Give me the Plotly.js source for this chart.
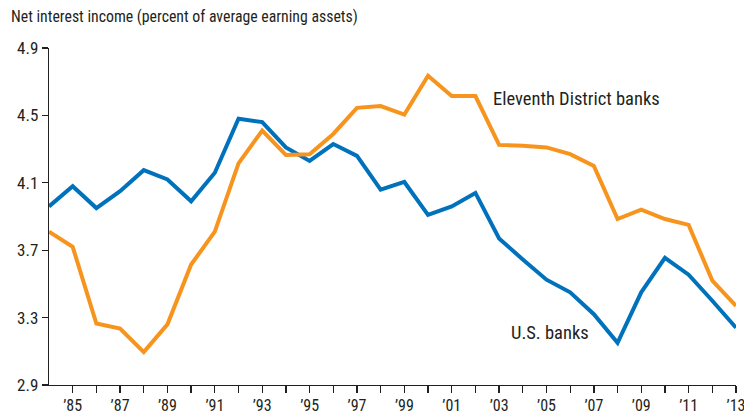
<!DOCTYPE html>
<html>
<head>
<meta charset="utf-8">
<script src="https://cdn.plot.ly/plotly-3.0.1.min.js"></script>
<style>html,body{margin:0;padding:0;background:#fff;}#chart{width:744px;height:414px;}</style>
</head>
<body>
<div id="chart"></div>
<script>
const years = [1984,1985,1986,1987,1988,1989,1990,1991,1992,1993,1994,1995,1996,1997,1998,1999,2000,2001,2002,2003,2004,2005,2006,2007,2008,2009,2010,2011,2012,2013];
const usBanks = [3.96,4.08,3.95,4.05,4.175,4.12,3.99,4.16,4.48,4.46,4.31,4.23,4.33,4.26,4.06,4.105,3.91,3.96,4.04,3.77,3.645,3.525,3.45,3.32,3.15,3.45,3.655,3.555,3.40,3.24];
const eleventhDistrict = [3.81,3.72,3.265,3.235,3.095,3.26,3.615,3.81,4.215,4.41,4.265,4.27,4.39,4.545,4.555,4.505,4.735,4.615,4.615,4.325,4.32,4.31,4.27,4.20,3.885,3.94,3.885,3.85,3.52,3.37];
const xTickVals = [1985,1986,1987,1988,1989,1990,1991,1992,1993,1994,1995,1996,1997,1998,1999,2000,2001,2002,2003,2004,2005,2006,2007,2008,2009,2010,2011,2012,2013];
const xTickText = ['’85','','’87','','’89','','’91','','’93','','’95','','’97','','’99','','’01','','’03','','’05','','’07','','’09','','’11','','’13'];
const yTickVals = [2.9,3.3,3.7,4.1,4.5,4.9];
const yTickText = ['2.9','3.3','3.7','4.1','4.5','4.9'];

const FONT = '"Liberation Sans Narrow", "Roboto Condensed", Roboto, sans-serif';
const INK = '#231F20';

const traces = [
  {x: years, y: usBanks, type: 'scatter', mode: 'lines', name: 'U.S. banks',
   line: {color: '#0072BC', width: 4}, cliponaxis: false},
  {x: years, y: eleventhDistrict, type: 'scatter', mode: 'lines', name: 'Eleventh District banks',
   line: {color: '#F7941D', width: 4}, cliponaxis: false}
];

const layout = {
  width: 744, height: 414,
  margin: {l: 49, r: 8, t: 48, b: 29},
  paper_bgcolor: '#fff', plot_bgcolor: '#fff',
  showlegend: false,
  font: {family: FONT, size: 17, color: INK},
  xaxis: {range: [1984, 2013], tickmode: 'array', tickvals: xTickVals, ticktext: xTickText,
    ticks: 'outside', ticklen: 7, tickwidth: 1.3, tickcolor: INK,
    showline: true, linecolor: INK, linewidth: 1.3, showgrid: false, zeroline: false,
    ticklabeloverflow: 'allow', ticklabelstandoff: -2,
    tickfont: {family: FONT, size: 16, color: INK}},
  yaxis: {range: [2.9, 4.9], tickmode: 'array', tickvals: yTickVals, ticktext: yTickText,
    ticks: 'outside', ticklen: 6, tickwidth: 1.3, tickcolor: INK,
    showline: true, linecolor: INK, linewidth: 1.3, showgrid: false, zeroline: false,
    tickfont: {family: FONT, size: 17, color: INK}},
  annotations: [
    {text: 'Net interest income (percent of average earning assets)', xref: 'paper', yref: 'paper',
     x: -40/687, y: 1 + 32/338, xanchor: 'left', yanchor: 'middle', showarrow: false,
     font: {family: FONT, size: 15.8, color: INK}},
    {text: 'Eleventh District banks', xref: 'x', yref: 'y', x: 2002.65, y: 4.595,
     xanchor: 'left', yanchor: 'middle', showarrow: false,
     font: {family: FONT, size: 18.5, color: INK}},
    {text: 'U.S. banks', xref: 'x', yref: 'y', x: 2003.42, y: 3.21,
     xanchor: 'left', yanchor: 'middle', showarrow: false,
     font: {family: FONT, size: 18.5, color: INK}}
  ]
};

Plotly.newPlot('chart', traces, layout, {staticPlot: true, displayModeBar: false});
</script>
</body>
</html>
